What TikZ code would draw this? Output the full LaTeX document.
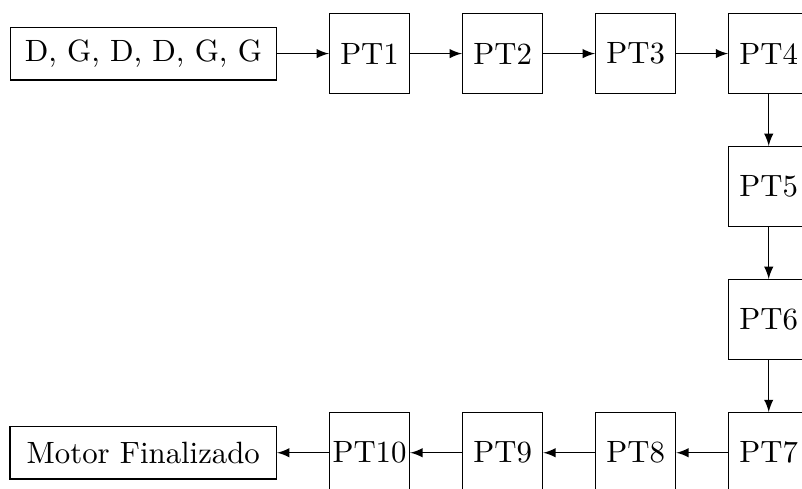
\documentclass[tikz,border=0pt]{standalone}
\usepackage{tikz}
\usetikzlibrary{positioning,arrows}

\begin{document}
\begin{tikzpicture}[
        bloco/.style={draw, minimum size=26pt, inner sep=1pt},
        extremo/.style={draw, minimum width=86.5pt, minimum height=17.1pt},
        node distance=16.8pt, >=latex]
        % page is cut on the right and at the bottom
        \useasboundingbox (-120pt,-141.1pt) rectangle (140.4pt,17.4pt);

        % first row
        \node[bloco] (pt1) at (0,0) {PT1};
        \node[extremo, left=of pt1] (seq) {D, G, D, D, G, G};
        \node[bloco, right=of pt1] (pt2) {PT2};
        \node[bloco, right=of pt2] (pt3) {PT3};
        \node[bloco, right=of pt3] (pt4) {PT4};

        % right column
        \node[bloco, below=of pt4] (pt5) {PT5};
        \node[bloco, below=of pt5] (pt6) {PT6};
        \node[bloco, below=of pt6] (pt7) {PT7};

        % last row, back to the left
        \node[bloco, left=of pt7] (pt8) {PT8};
        \node[bloco, left=of pt8] (pt9) {PT9};
        \node[bloco, left=of pt9] (pt10) {PT10};
        \node[extremo, left=of pt10] (fim) {Motor Finalizado};

        \draw[->] (seq) -- (pt1);
        \draw[->] (pt1) -- (pt2);
        \draw[->] (pt2) -- (pt3);
        \draw[->] (pt3) -- (pt4);
        \draw[->] (pt4) -- (pt5);
        \draw[->] (pt5) -- (pt6);
        \draw[->] (pt6) -- (pt7);
        \draw[->] (pt7) -- (pt8);
        \draw[->] (pt8) -- (pt9);
        \draw[->] (pt9) -- (pt10);
        \draw[->] (pt10) -- (fim);
        %\draw[step=10pt,gray,very thin] (-120pt,-141pt) grid (140pt,17pt);
    \end{tikzpicture}
\end{document}
